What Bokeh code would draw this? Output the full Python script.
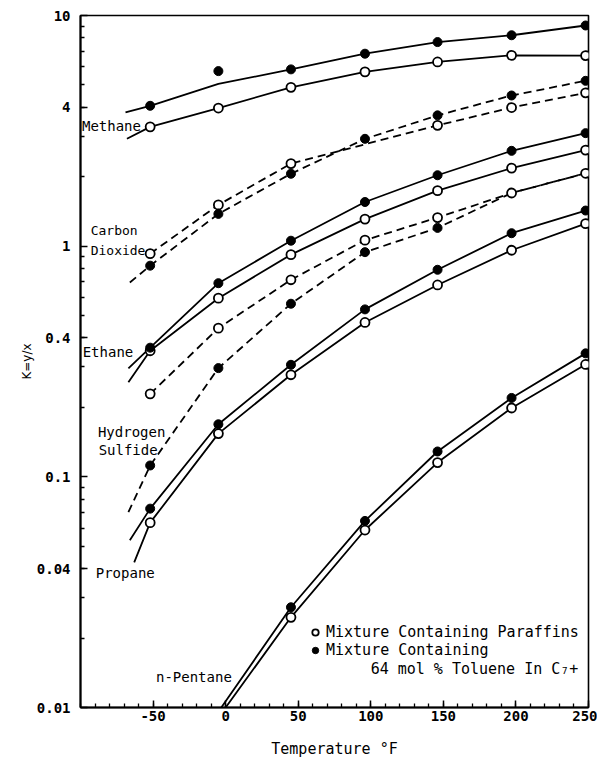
from bokeh.plotting import figure
from bokeh.models import (FixedTicker, CustomJSTickFormatter, Label, Range1d,
                          Legend, LegendItem)
from bokeh.embed import file_html
from bokeh.resources import INLINE

nan = float("nan")

# ---------------- data ----------------
temps = [-52, -5, 45, 96, 146, 197, 248]          # deg F

# open circles = mixture containing paraffins, filled = 64 mol % toluene in C7+
methane_par = [3.29, 3.97, 4.88, 5.70, 6.29, 6.72, 6.70]
methane_tol = [4.06, 5.74, 5.84, 6.83, 7.67, 8.21, 9.05]
co2_par = [0.928, 1.51, 2.28, nan, 3.34, 3.99, 4.62]
co2_tol = [0.823, 1.38, 2.06, 2.92, 3.69, 4.50, 5.21]
ethane_par = [0.352, 0.595, 0.919, 1.31, 1.74, 2.18, 2.61]
ethane_tol = [0.363, 0.691, 1.056, 1.554, 2.03, 2.59, 3.09]
h2s_par = [0.229, 0.441, 0.715, 1.062, 1.33, 1.70, 2.07]
h2s_tol = [0.112, 0.296, 0.563, 0.942, 1.20, nan, nan]
propane_par = [0.0633, 0.154, 0.277, 0.467, 0.679, 0.960, 1.252]
propane_tol = [0.0728, 0.169, 0.306, 0.532, 0.790, 1.138, 1.427]
pentane_par = [nan, nan, 0.0246, 0.0588, 0.1153, 0.1988, 0.307]
pentane_tol = [nan, nan, 0.0272, 0.0644, 0.1288, 0.2198, 0.343]

# traced correlation curves (temperature, K)
methane_par_cx = [-68, -52, -5, 45, 96, 146, 197, 248]
methane_par_cy = [2.92, 3.29, 3.97, 4.88, 5.70, 6.29, 6.72, 6.70]
methane_tol_cx = [-69, -52, -5, 45, 96, 146, 197, 248]
methane_tol_cy = [3.80, 4.06, 5.05, 5.84, 6.83, 7.67, 8.21, 9.05]
co2_par_cx = [-52, -5, 45, 146, 197, 248]
co2_par_cy = [0.928, 1.51, 2.28, 3.34, 3.99, 4.62]
co2_tol_cx = [-66, -52, -5, 45, 96, 146, 197, 248]
co2_tol_cy = [0.696, 0.823, 1.38, 2.06, 2.92, 3.69, 4.50, 5.21]
ethane_par_cx = [-67, -52, -5, 45, 96, 146, 197, 248]
ethane_par_cy = [0.257, 0.352, 0.595, 0.919, 1.31, 1.74, 2.18, 2.61]
ethane_tol_cx = [-67, -52, -5, 45, 96, 146, 197, 248]
ethane_tol_cy = [0.295, 0.363, 0.691, 1.056, 1.554, 2.03, 2.59, 3.09]
h2s_par_cx = [-52, -5, 45, 96, 146, 197, 248]
h2s_par_cy = [0.229, 0.441, 0.715, 1.062, 1.33, 1.70, 2.07]
h2s_tol_cx = [-67, -52, -5, 45, 96, 146, 197, 248]
h2s_tol_cy = [0.0703, 0.112, 0.296, 0.563, 0.942, 1.20, 1.70, 2.07]
propane_par_cx = [-63, -52, -5, 45, 96, 146, 197, 248]
propane_par_cy = [0.0426, 0.0633, 0.154, 0.277, 0.467, 0.679, 0.960, 1.252]
propane_tol_cx = [-66, -52, -5, 45, 96, 146, 197, 248]
propane_tol_cy = [0.0531, 0.0728, 0.169, 0.306, 0.532, 0.790, 1.138, 1.427]
pentane_par_cx = [0, 45, 96, 146, 197, 248]
pentane_par_cy = [0.0100, 0.0246, 0.0588, 0.1153, 0.1988, 0.307]
pentane_tol_cx = [-3, 45, 96, 146, 197, 248]
pentane_tol_cy = [0.0100, 0.0272, 0.0644, 0.1288, 0.2198, 0.343]

x_ticks = [-50, 0, 50, 100, 150, 200, 250]
y_ticks = [0.01, 0.04, 0.1, 0.4, 1, 4, 10]

# ---------------- figure ----------------
p = figure(width=597, height=765, y_axis_type="log",
           x_range=Range1d(-100, 250), y_range=Range1d(0.01, 10),
           output_backend="svg", toolbar_location=None,
           min_border_left=80, min_border_right=9,
           min_border_top=15, min_border_bottom=58)
p.background_fill_color = "white"
p.border_fill_color = "white"
p.grid.visible = False
p.outline_line_color = "black"
p.outline_line_width = 1.6

minor_y = [m * d for d in (0.01, 0.1, 1) for m in range(2, 10)]
p.xaxis.ticker = FixedTicker(ticks=x_ticks, minor_ticks=list(range(-100, 251, 10)))
p.yaxis.ticker = FixedTicker(ticks=y_ticks, minor_ticks=minor_y)
fmt = "return tick.toString();"
p.xaxis.formatter = CustomJSTickFormatter(code=fmt)
p.yaxis.formatter = CustomJSTickFormatter(code=fmt)

for ax in (p.xaxis[0], p.yaxis[0]):
    ax.axis_line_color = "black"
    ax.axis_line_width = 2
    ax.major_tick_in = 7
    ax.major_tick_out = 0
    ax.minor_tick_in = 4
    ax.minor_tick_out = 0
    ax.major_tick_line_width = 1.5
    ax.minor_tick_line_width = 1.3
    ax.major_label_text_font = "DejaVu Sans Mono"
    ax.major_label_text_font_style = "bold"
    ax.major_label_text_font_size = "14px"
    ax.major_label_text_color = "black"
    ax.axis_label_text_font_style = "normal"
    ax.axis_label_text_color = "black"

p.xaxis.major_label_standoff = 3
p.yaxis.major_label_standoff = 10
p.xaxis.axis_label = "Temperature °F"
p.xaxis.axis_label_text_font = "DejaVu Sans Mono"
p.xaxis.axis_label_text_font_size = "15px"
p.xaxis.axis_label_standoff = 16
p.yaxis.axis_label = "K=y/x"
p.yaxis.axis_label_text_font = "DejaVu Sans"
p.yaxis.axis_label_text_font_size = "12px"
p.yaxis.axis_label_standoff = 0

LW = 1.8
DASH = "8 5"
curves = [
    (methane_par_cx, methane_par_cy, "solid"), (methane_tol_cx, methane_tol_cy, "solid"),
    (co2_par_cx, co2_par_cy, DASH), (co2_tol_cx, co2_tol_cy, DASH),
    (ethane_par_cx, ethane_par_cy, "solid"), (ethane_tol_cx, ethane_tol_cy, "solid"),
    (h2s_par_cx, h2s_par_cy, DASH), (h2s_tol_cx, h2s_tol_cy, DASH),
    (propane_par_cx, propane_par_cy, "solid"), (propane_tol_cx, propane_tol_cy, "solid"),
    (pentane_par_cx, pentane_par_cy, "solid"), (pentane_tol_cx, pentane_tol_cy, "solid"),
]
for cx, cy, dash in curves:
    p.line(cx, cy, line_color="black", line_width=LW, line_dash=dash)

open_series = [methane_par, co2_par, ethane_par, h2s_par, propane_par, pentane_par]
filled_series = [methane_tol, co2_tol, ethane_tol, h2s_tol, propane_tol, pentane_tol]
open_r = []
filled_r = []
for vals in open_series:
    open_r.append(p.scatter(temps, vals, marker="circle", size=9, line_color="black",
                            line_width=1.8, fill_color="white"))
for vals in filled_series:
    filled_r.append(p.scatter(temps, vals, marker="circle", size=9, line_color="black",
                              line_width=1, fill_color="black"))

# component labels
lab_font = "DejaVu Sans Mono"
labels = [
    ("Methane", -99, 3.31, "14px"),
    ("Carbon", -93, 1.17, "13px"),
    ("Dioxide", -93, 0.96, "13px"),
    ("Ethane", -98.5, 0.347, "14px"),
    ("Hydrogen", -88, 0.157, "14px"),
    ("Sulfide", -87.5, 0.131, "14px"),
    ("Propane", -89.5, 0.0384, "14px"),
    ("n-Pentane", -48, 0.0136, "14px"),
]
for txt, lx, ly, fs in labels:
    p.add_layout(Label(x=lx, y=ly, text=txt, text_font=lab_font, text_font_size=fs,
                       text_baseline="middle", text_align="left", text_color="black"))

# legend
legend = Legend(items=[LegendItem(label="Mixture Containing Paraffins", renderers=[open_r[0]]),
                       LegendItem(label="Mixture Containing", renderers=[filled_r[0]])],
                location=(227, 48), orientation="vertical",
                border_line_color=None, background_fill_alpha=0,
                padding=0, margin=0, spacing=0,
                glyph_width=16, glyph_height=18, label_height=18,
                label_standoff=3, label_text_font="DejaVu Sans Mono",
                label_text_font_size="15px", label_text_color="black")
p.add_layout(legend)
p.add_layout(Label(x=243, y=0.01462, text="64 mol % Toluene In C₇+",
                   text_font="DejaVu Sans Mono", text_font_size="15px",
                   text_align="right", text_baseline="middle", text_color="black"))

open("out.html", "w").write(file_html(p, INLINE))
